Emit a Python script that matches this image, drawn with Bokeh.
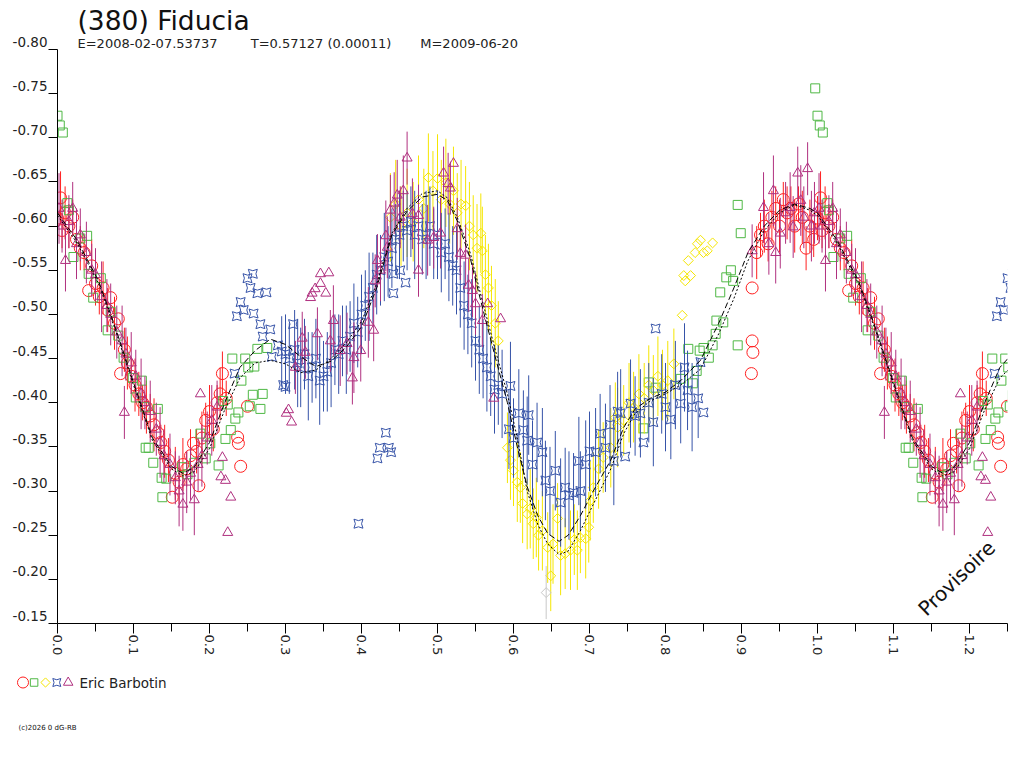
import math
from bokeh.plotting import figure
from bokeh.layouts import column
from bokeh.models import (Range1d, FixedTicker, PrintfTickFormatter, ColumnDataSource,
                          Label, Title)
from bokeh.embed import file_html
from bokeh.resources import INLINE

# ---------------- data (phase, magnitude, error) ----------------
NB = "\u00a0"
TITLE = "(380) Fiducia"
SUBTITLE = ("E=2008-02-07.53737" + NB * 7 + " T=0.57127 (0.00011)" + NB * 6 + " M=2009-06-20")
OBSERVER = "Eric Barbotin"
COPYRIGHT = "(c)2026 0 dG-RB"
STAMP = "Provisoire"

X_TICKS = [0.0, 0.1, 0.2, 0.3, 0.4, 0.5, 0.6, 0.7, 0.8, 0.9, 1.0, 1.1, 1.2]
X_MINOR = [0.05, 0.15, 0.25, 0.35, 0.45, 0.55, 0.65, 0.75, 0.85, 0.95, 1.05, 1.15, 1.25]
Y_TICKS = [-0.80, -0.75, -0.70, -0.65, -0.60, -0.55, -0.50, -0.45, -0.40, -0.35,
           -0.30, -0.25, -0.20, -0.15]

# red circles
red_ph = [0.000, 0.004, 0.006, 0.010, 0.015, 0.020, 0.025, 0.030, 0.035, 0.041,
          0.045, 0.050, 0.055, 0.060, 0.066, 0.070, 0.075, 0.080, 0.083, 0.088,
          0.092, 0.097, 0.102, 0.107, 0.112, 0.117, 0.122, 0.127, 0.132, 0.136,
          0.141, 0.146, 0.151, 0.155, 0.160, 0.165, 0.170, 0.175, 0.179, 0.183,
          0.186, 0.190, 0.195, 0.200, 0.205, 0.210, 0.214, 0.217, 0.222,
          0.237, 0.238, 0.241, 0.250,
          0.914, 0.914, 0.915, 0.913,
          0.920, 0.925, 0.930, 0.935, 0.940, 0.945, 0.950, 0.955, 0.960, 0.965,
          0.970, 0.975, 0.980, 0.985, 0.990, 0.995]
red_mag = [-0.609, -0.632, -0.595, -0.615, -0.600, -0.610, -0.585, -0.575, -0.570, -0.527,
           -0.555, -0.535, -0.520, -0.530, -0.505, -0.519, -0.490, -0.495, -0.433, -0.460,
           -0.445, -0.430, -0.420, -0.410, -0.400, -0.395, -0.385, -0.375, -0.366, -0.355,
           -0.345, -0.335, -0.293, -0.320, -0.310, -0.330, -0.325, -0.340, -0.354, -0.345,
           -0.306, -0.360, -0.380, -0.390, -0.370, -0.400, -0.410, -0.433, -0.405,
           -0.361, -0.354, -0.328, -0.396,
           -0.530, -0.470, -0.457, -0.433,
           -0.570, -0.590, -0.600, -0.580, -0.610, -0.620, -0.600, -0.630, -0.615, -0.620,
           -0.600, -0.625, -0.610, -0.575, -0.600, -0.585]
red_err = [0.025, 0.030, 0.020, 0.030, 0.025, 0.020, 0.030, 0.025, 0.020, 0.0,
           0.030, 0.025, 0.020, 0.030, 0.025, 0.0, 0.030, 0.0, 0.0, 0.025,
           0.030, 0.020, 0.030, 0.025, 0.020, 0.030, 0.025, 0.030, 0.0, 0.020,
           0.030, 0.025, 0.0, 0.030, 0.025, 0.030, 0.020, 0.030, 0.0, 0.025,
           0.0, 0.030, 0.020, 0.030, 0.025, 0.020, 0.030, 0.025, 0.020,
           0.0, 0.0, 0.0, 0.0,
           0.0, 0.0, 0.0, 0.0,
           0.030, 0.025, 0.030, 0.020, 0.030, 0.025, 0.030, 0.020, 0.030, 0.025,
           0.030, 0.020, 0.030, 0.025, 0.030, 0.020]

# green squares
green_ph = [0.000, 0.003, 0.007, 0.013, 0.015, 0.021, 0.030, 0.039, 0.041, 0.047,
            0.057, 0.066, 0.070, 0.080, 0.087, 0.099, 0.103, 0.111, 0.115, 0.116,
            0.120, 0.126, 0.132, 0.137, 0.138, 0.143, 0.164, 0.171, 0.180, 0.188,
            0.195, 0.201, 0.212, 0.218, 0.221, 0.224, 0.228, 0.230, 0.234, 0.238,
            0.242, 0.247, 0.251, 0.253, 0.257, 0.259, 0.263, 0.267, 0.270, 0.276,
            0.771, 0.778, 0.787, 0.820, 0.830, 0.836, 0.841, 0.845, 0.850, 0.857,
            0.862, 0.866, 0.867, 0.872, 0.876, 0.880, 0.886, 0.889, 0.895, 0.895,
            0.899, 0.997]
green_mag = [-0.725, -0.714, -0.706, -0.626, -0.618, -0.565, -0.586, -0.589, -0.546, -0.519,
             -0.541, -0.482, -0.503, -0.476, -0.451, -0.428, -0.406, -0.425, -0.395, -0.349,
             -0.349, -0.332, -0.393, -0.315, -0.293, -0.314, -0.327, -0.319, -0.332, -0.365,
             -0.337, -0.354, -0.329, -0.402, -0.359, -0.398, -0.369, -0.450, -0.382, -0.389,
             -0.425, -0.450, -0.440, -0.396, -0.409, -0.441, -0.461, -0.393, -0.410, -0.462,
             -0.371, -0.423, -0.417, -0.427, -0.461, -0.422, -0.436, -0.459, -0.462, -0.451,
             -0.465, -0.478, -0.493, -0.525, -0.491, -0.542, -0.550, -0.538, -0.465, -0.624,
             -0.592, -0.756]

# yellow diamonds
yellow_ph = [0.438, 0.445, 0.452, 0.460, 0.468, 0.475, 0.482, 0.488, 0.494, 0.500,
             0.505, 0.511, 0.516, 0.521, 0.526, 0.531, 0.537, 0.542, 0.547, 0.552,
             0.557, 0.559, 0.563, 0.567, 0.571, 0.576, 0.580,
             0.592, 0.596, 0.600, 0.605, 0.609, 0.612, 0.618, 0.622, 0.626, 0.630,
             0.633, 0.638, 0.645, 0.649, 0.652, 0.658, 0.662, 0.668, 0.675, 0.680,
             0.684, 0.688, 0.695, 0.699, 0.701, 0.705, 0.712, 0.718, 0.728, 0.734, 0.737,
             0.745, 0.752, 0.758, 0.765, 0.772, 0.778, 0.784, 0.790, 0.796, 0.803,
             0.811, 0.822,
             0.824, 0.826, 0.830, 0.833, 0.839, 0.842, 0.846, 0.850, 0.855, 0.862]
yellow_mag = [-0.610, -0.625, -0.600, -0.615, -0.605, -0.630, -0.620, -0.655, -0.640, -0.654,
              -0.630, -0.649, -0.625, -0.640, -0.615, -0.625, -0.623, -0.600, -0.590, -0.575,
              -0.592, -0.572, -0.545, -0.530, -0.510, -0.490, -0.470,
              -0.349, -0.335, -0.323, -0.310, -0.304, -0.286, -0.274, -0.280, -0.263, -0.270,
              -0.250, -0.255, -0.236, -0.204, -0.240, -0.269, -0.227, -0.229, -0.233, -0.245,
              -0.233, -0.247, -0.246, -0.259, -0.289, -0.304, -0.325, -0.338, -0.349, -0.383, -0.372,
              -0.380, -0.400, -0.395, -0.410, -0.405, -0.420, -0.414, -0.430, -0.420, -0.425,
              -0.444, -0.499,
              -0.544, -0.538, -0.561, -0.544, -0.570, -0.580, -0.584, -0.570, -0.572, -0.581]
yellow_err = [0.050, 0.050, 0.045, 0.050, 0.045, 0.050, 0.045, 0.050, 0.045, 0.050,
              0.045, 0.050, 0.045, 0.050, 0.045, 0.050, 0.045, 0.050, 0.045, 0.050,
              0.045, 0.050, 0.045, 0.050, 0.045, 0.050, 0.045,
              0.040, 0.045, 0.040, 0.045, 0.040, 0.045, 0.040, 0.045, 0.040, 0.045,
              0.040, 0.045, 0.040, 0.040, 0.045, 0.040, 0.045, 0.040, 0.045, 0.040,
              0.045, 0.040, 0.045, 0.040, 0.045, 0.040, 0.045, 0.040, 0.045, 0.040, 0.045,
              0.040, 0.045, 0.040, 0.045, 0.040, 0.045, 0.040, 0.045, 0.040, 0.045,
              0.040, 0.0,
              0.0, 0.0, 0.0, 0.0, 0.0, 0.0, 0.0, 0.0, 0.0, 0.0]

# blue four-point stars
blue_ph = [0.233, 0.236, 0.241, 0.245, 0.250, 0.254, 0.257, 0.258, 0.263, 0.267,
           0.270, 0.275, 0.280, 0.290, 0.297, 0.300,
           0.282, 0.295, 0.300, 0.305, 0.310, 0.312, 0.316, 0.320, 0.325, 0.330,
           0.335, 0.340, 0.345, 0.350, 0.355, 0.360, 0.365, 0.370, 0.375, 0.380,
           0.385, 0.390, 0.395, 0.400, 0.405, 0.410, 0.415, 0.420, 0.425, 0.430,
           0.435, 0.440, 0.445, 0.450, 0.455, 0.460, 0.465, 0.470, 0.475, 0.480,
           0.485, 0.490, 0.495, 0.500, 0.505, 0.510, 0.515, 0.520,
           0.396, 0.421, 0.424, 0.432, 0.436, 0.439, 0.442, 0.442, 0.451, 0.458,
           0.525, 0.530, 0.535, 0.540, 0.545, 0.550, 0.555, 0.560, 0.565, 0.570,
           0.575, 0.580, 0.585, 0.594, 0.596, 0.600, 0.607, 0.613, 0.618, 0.620,
           0.625, 0.631, 0.638, 0.642, 0.648, 0.655, 0.662, 0.668, 0.673, 0.679,
           0.686, 0.688, 0.695, 0.700, 0.708, 0.714, 0.721, 0.727, 0.732, 0.737,
           0.741, 0.747, 0.754, 0.760, 0.767, 0.771, 0.778, 0.784, 0.787, 0.795,
           0.800, 0.807, 0.813, 0.820, 0.825, 0.829, 0.835, 0.843, 0.846, 0.850]
blue_mag = [-0.433, -0.498, -0.514, -0.505, -0.541, -0.530, -0.546, -0.501, -0.524, -0.489,
            -0.475, -0.525, -0.483, -0.465, -0.420, -0.418,
            -0.452, -0.458, -0.455, -0.450, -0.489, -0.460, -0.445, -0.440, -0.455, -0.430,
            -0.440, -0.450, -0.425, -0.430, -0.435, -0.445, -0.460, -0.455, -0.470, -0.460,
            -0.475, -0.490, -0.480, -0.500, -0.510, -0.520, -0.530, -0.545, -0.550, -0.565,
            -0.560, -0.575, -0.585, -0.590, -0.600, -0.595, -0.605, -0.590, -0.600, -0.585,
            -0.590, -0.600, -0.580, -0.590, -0.570, -0.580, -0.565, -0.555,
            -0.263, -0.337, -0.349, -0.366, -0.349, -0.344, -0.546, -0.524, -0.550, -0.536,
            -0.550, -0.530, -0.510, -0.500, -0.490, -0.470, -0.460, -0.450, -0.440, -0.430,
            -0.415, -0.420, -0.410, -0.370, -0.419, -0.360, -0.388, -0.369, -0.357, -0.386,
            -0.330, -0.355, -0.344, -0.312, -0.300, -0.323, -0.287, -0.304, -0.295, -0.298,
            -0.334, -0.300, -0.330, -0.345, -0.344, -0.365, -0.349, -0.375, -0.334, -0.390,
            -0.388, -0.339, -0.399, -0.385, -0.388, -0.355, -0.400, -0.378, -0.484, -0.410,
            -0.395, -0.381, -0.420, -0.399, -0.440, -0.414, -0.395, -0.405, -0.446, -0.389]
blue_err = [0.0, 0.0, 0.0, 0.0, 0.0, 0.0, 0.0, 0.0, 0.0, 0.0,
            0.0, 0.0, 0.0, 0.0, 0.0, 0.0,
            0.0, 0.040, 0.045, 0.040, 0.0, 0.045, 0.050, 0.045, 0.040, 0.050,
            0.040, 0.045, 0.050, 0.040, 0.045, 0.050, 0.040, 0.045, 0.040, 0.050,
            0.040, 0.045, 0.040, 0.045, 0.040, 0.050, 0.040, 0.045, 0.040, 0.050,
            0.040, 0.045, 0.040, 0.050, 0.040, 0.045, 0.040, 0.050, 0.045, 0.040,
            0.050, 0.045, 0.040, 0.050, 0.045, 0.040, 0.050, 0.045,
            0.0, 0.0, 0.0, 0.0, 0.0, 0.0, 0.0, 0.0, 0.0, 0.0,
            0.050, 0.045, 0.050, 0.045, 0.050, 0.045, 0.050, 0.045, 0.050, 0.045,
            0.050, 0.045, 0.050, 0.045, 0.050, 0.045, 0.050, 0.045, 0.050, 0.045,
            0.050, 0.045, 0.050, 0.045, 0.050, 0.045, 0.050, 0.045, 0.050, 0.045,
            0.050, 0.045, 0.050, 0.045, 0.050, 0.045, 0.050, 0.045, 0.050, 0.045,
            0.050, 0.0, 0.050, 0.045, 0.050, 0.0, 0.045, 0.050, 0.0, 0.045,
            0.050, 0.045, 0.050, 0.045, 0.050, 0.045, 0.050, 0.045, 0.0, 0.0]

# purple triangles
purple_ph = [0.002, 0.006, 0.0105, 0.015, 0.020, 0.025, 0.030, 0.038, 0.045, 0.050,
             0.058, 0.065, 0.070, 0.078, 0.085, 0.088, 0.090, 0.097, 0.103, 0.110,
             0.115, 0.122, 0.130, 0.135, 0.140, 0.148, 0.155, 0.160, 0.165, 0.170,
             0.175, 0.180, 0.185, 0.188, 0.190, 0.197, 0.203, 0.210, 0.215, 0.217,
             0.221, 0.224, 0.228,
             0.301, 0.304, 0.308, 0.313, 0.322, 0.326, 0.333, 0.335, 0.339, 0.342,
             0.346, 0.346, 0.353, 0.357, 0.359, 0.363, 0.372, 0.381, 0.388, 0.390,
             0.399, 0.409, 0.416, 0.418, 0.421, 0.425,
             0.432, 0.434, 0.438, 0.443, 0.447, 0.451, 0.455, 0.460, 0.467, 0.475,
             0.475, 0.487, 0.495, 0.504, 0.508, 0.514, 0.517, 0.521, 0.526, 0.530,
             0.537, 0.541, 0.546, 0.550, 0.559, 0.566, 0.574, 0.583,
             0.914, 0.929, 0.936, 0.942, 0.945, 0.951, 0.958, 0.964, 0.968, 0.974,
             0.978, 0.982, 0.987, 0.992, 0.996]
purple_mag = [-0.620, -0.600, -0.561, -0.605, -0.620, -0.580, -0.590, -0.570, -0.550, -0.545,
              -0.520, -0.510, -0.500, -0.480, -0.470, -0.389, -0.455, -0.445, -0.430, -0.410,
              -0.400, -0.390, -0.370, -0.355, -0.340, -0.330, -0.315, -0.300, -0.285, -0.310,
              -0.320, -0.290, -0.330, -0.410, -0.340, -0.360, -0.380, -0.395, -0.316, -0.338,
              -0.312, -0.253, -0.293,
              -0.388, -0.392, -0.378, -0.440, -0.473, -0.457, -0.519, -0.524, -0.529, -0.478,
              -0.535, -0.546, -0.524, -0.547, -0.470, -0.493, -0.459, -0.467, -0.428, -0.451,
              -0.459, -0.491, -0.482, -0.538, -0.561, -0.550,
              -0.589, -0.576, -0.618, -0.626, -0.635, -0.610, -0.640, -0.677, -0.614, -0.612,
              -0.550, -0.584, -0.587, -0.592, -0.660, -0.648, -0.643, -0.671, -0.597, -0.569,
              -0.567, -0.533, -0.527, -0.512, -0.493, -0.512, -0.405, -0.495,
              -0.572, -0.621, -0.580, -0.640, -0.570, -0.592, -0.615, -0.621, -0.599, -0.660,
              -0.629, -0.610, -0.665, -0.600, -0.615]
purple_err = [0.040, 0.030, 0.035, 0.030, 0.030, 0.040, 0.030, 0.035, 0.030, 0.030,
              0.040, 0.030, 0.035, 0.030, 0.040, 0.030, 0.030, 0.035, 0.030, 0.040,
              0.030, 0.035, 0.030, 0.040, 0.030, 0.035, 0.030, 0.040, 0.030, 0.035,
              0.030, 0.040, 0.030, 0.0, 0.035, 0.030, 0.040, 0.030, 0.0, 0.0,
              0.0, 0.0, 0.0,
              0.0, 0.0, 0.0, 0.030, 0.030, 0.030, 0.0, 0.0, 0.0, 0.030,
              0.0, 0.0, 0.0, 0.0, 0.035, 0.040, 0.040, 0.035, 0.030, 0.040,
              0.035, 0.040, 0.035, 0.030, 0.030, 0.035,
              0.040, 0.035, 0.040, 0.035, 0.040, 0.035, 0.040, 0.030, 0.040, 0.035,
              0.030, 0.040, 0.035, 0.040, 0.030, 0.035, 0.030, 0.0, 0.035, 0.030,
              0.035, 0.030, 0.030, 0.035, 0.030, 0.0, 0.0, 0.0,
              0.030, 0.040, 0.035, 0.040, 0.035, 0.040, 0.035, 0.040, 0.035, 0.030,
              0.040, 0.035, 0.030, 0.040, 0.035]

# grey diamond
grey_ph = [0.643]
grey_mag = [-0.185]
grey_err = [0.030]

# fitted light curves (two versions)
fit_ph = [0.000, 0.025, 0.054, 0.075, 0.100, 0.125, 0.150, 0.165, 0.180, 0.200,
          0.220, 0.240, 0.260, 0.280, 0.300, 0.320, 0.340, 0.360, 0.380, 0.400,
          0.420, 0.440, 0.460, 0.480, 0.500, 0.513, 0.526, 0.543, 0.557, 0.575,
          0.592, 0.605, 0.618, 0.632, 0.645, 0.660, 0.672, 0.688, 0.705, 0.728,
          0.745, 0.760, 0.780, 0.800, 0.820, 0.846, 0.870, 0.890, 0.908, 0.930,
          0.950, 0.970, 0.990, 1.000]
fit_a = [-0.615, -0.585, -0.538, -0.488, -0.423, -0.360, -0.328, -0.320, -0.327, -0.355,
         -0.400, -0.440, -0.459, -0.472, -0.466, -0.452, -0.441, -0.447, -0.463, -0.486,
         -0.530, -0.590, -0.617, -0.633, -0.636, -0.629, -0.606, -0.564, -0.515, -0.455,
         -0.400, -0.350, -0.305, -0.272, -0.252, -0.243, -0.250, -0.272, -0.300, -0.335,
         -0.372, -0.393, -0.405, -0.412, -0.425, -0.448, -0.490, -0.530, -0.569, -0.600,
         -0.618, -0.625, -0.620, -0.615]
fit_b = [-0.612, -0.582, -0.535, -0.485, -0.420, -0.357, -0.325, -0.317, -0.322, -0.348,
         -0.392, -0.428, -0.445, -0.448, -0.444, -0.434, -0.437, -0.450, -0.468, -0.492,
         -0.535, -0.592, -0.620, -0.637, -0.640, -0.632, -0.610, -0.570, -0.522, -0.463,
         -0.410, -0.360, -0.300, -0.262, -0.240, -0.228, -0.232, -0.255, -0.285, -0.325,
         -0.365, -0.388, -0.402, -0.410, -0.420, -0.438, -0.478, -0.518, -0.560, -0.595,
         -0.615, -0.624, -0.618, -0.612]

RED, GREEN, YELLOW, BLUE, PURPLE, GREY = "#ff2020", "#4fb845", "#f5e600", "#3653a8", "#b0307f", "#c8c8c8"
FONT = "DejaVu Sans"


def folded(ph, mag, err):
    """Repeat phases < 0.27 one cycle later, as the folded light curve does."""
    order = sorted(range(len(ph)), key=lambda i: ph[i])
    xs = [ph[i] for i in order]
    ys = [mag[i] for i in order]
    es = [err[i] for i in order]
    for a, b, c in zip(list(xs), list(ys), list(es)):
        if a < 0.27:
            xs.append(a + 1.0)
            ys.append(b)
            es.append(c)
    return ColumnDataSource(dict(x=xs, y=ys, lo=[m - e for m, e in zip(ys, es)],
                                 hi=[m + e for m, e in zip(ys, es)]))


p = figure(width=1020, height=663, output_backend="svg", toolbar_location=None, title=None,
           x_range=Range1d(0, 1.25), y_range=Range1d(-0.15, -0.80),
           min_border_left=57, min_border_right=13, min_border_top=49, min_border_bottom=40)
p.grid.visible = False
p.outline_line_color = None
p.background_fill_color = "white"

# titles (closest to the frame first)
p.add_layout(Title(text=SUBTITLE, text_font=FONT, text_font_size="13px", text_font_style="normal",
                   text_color="#222222", align="left", offset=20, standoff=-2), "above")
p.add_layout(Title(text=TITLE, text_font=FONT, text_font_size="26.5px", text_font_style="normal",
                   text_color="#111111", align="left", offset=20, standoff=-2), "above")

# axes
p.xaxis.ticker = FixedTicker(ticks=X_TICKS, minor_ticks=X_MINOR)
p.xaxis.formatter = PrintfTickFormatter(format="%.1f")
p.xaxis.major_label_orientation = -math.pi / 2
p.xaxis.major_tick_out = 10
p.xaxis.major_tick_in = 0
p.xaxis.minor_tick_out = 8
p.xaxis.minor_tick_in = 0
p.xaxis.major_label_standoff = 1
p.yaxis.ticker = FixedTicker(ticks=Y_TICKS, minor_ticks=[])
p.yaxis.formatter = PrintfTickFormatter(format="%.2f\n")
p.yaxis.major_tick_out = 9
p.yaxis.major_tick_in = 0
p.yaxis.minor_tick_out = 0
p.yaxis.minor_tick_in = 0
p.yaxis.major_label_standoff = 1
for ax in (p.xaxis, p.yaxis):
    ax.axis_line_color = "black"
    ax.major_tick_line_color = "black"
    ax.minor_tick_line_color = "black"
    ax.major_label_text_font = FONT
    ax.major_label_text_color = "#222222"
p.xaxis.major_label_text_font_size = "13px"
p.yaxis.major_label_text_font_size = "13.5px"
p.yaxis.major_label_text_line_height = 1.0

series = [
    (red_ph, red_mag, red_err, RED, "circle", 12, 0),
    (green_ph, green_mag, [0.0] * len(green_ph), GREEN, "square", 9, 0),
    (yellow_ph, yellow_mag, yellow_err, YELLOW, "square", 7, math.pi / 4),
    (grey_ph, grey_mag, grey_err, GREY, "square", 7, math.pi / 4),
    (blue_ph, blue_mag, blue_err, BLUE, "square_pin", 9, 0),
    (purple_ph, purple_mag, purple_err, PURPLE, "triangle", 10, 0),
]
for ph, mag, err, col, mk, sz, ang in series:
    src = folded(ph, mag, err)
    p.segment(x0="x", y0="lo", x1="x", y1="hi", source=src, line_color=col, line_width=1)
    p.scatter(x="x", y="y", source=src, marker=mk, size=sz, angle=ang,
              line_color=col, fill_color=None, line_width=1)

# fit curves
p.line(x="x", y="y", source=folded(fit_ph, fit_a, [0.0] * len(fit_ph)),
       line_color="black", line_width=1, line_dash="6 3")
p.line(x="x", y="y", source=folded(fit_ph, fit_b, [0.0] * len(fit_ph)),
       line_color="black", line_width=1, line_dash="2 2")

# stamp
p.add_layout(Label(x=1.137, y=-0.163, text=STAMP, angle=44, angle_units="deg",
                   text_font=FONT, text_font_size="20px", text_color="#111111",
                   text_baseline="alphabetic", text_align="left"))

# ---------------- legend strip below the chart (pixel coordinates) ----------------
lf = figure(width=1020, height=100, output_backend="svg", toolbar_location=None, title=None,
            x_range=Range1d(0, 1020), y_range=Range1d(100, 0),
            x_axis_type=None, y_axis_type=None,
            min_border_left=0, min_border_right=0, min_border_top=0, min_border_bottom=0)
lf.frame_align = False
lf.grid.visible = False
lf.outline_line_color = None
key_x = [22.5, 33.6, 45.0, 56.3, 67.7]
key_size = [11, 7.5, 6.5, 8, 9.5]
key_style = [series[0], series[1], series[2], series[4], series[5]]
for kx, ks, st in zip(key_x, key_size, key_style):
    lf.scatter(x=[kx], y=[19], marker=st[4], size=ks, angle=st[6],
               line_color=st[3], fill_color=None, line_width=1)
lf.add_layout(Label(x=79, y=19, text=OBSERVER, text_font=FONT, text_font_size="13.5px",
                    text_color="#222222", text_baseline="middle", text_align="left"))
lf.add_layout(Label(x=18, y=64, text=COPYRIGHT, text_font=FONT, text_font_size="7px",
                    text_color="#111111", text_baseline="alphabetic", text_align="left"))

open("out.html", "w").write(file_html(column(p, lf, spacing=0), INLINE))
